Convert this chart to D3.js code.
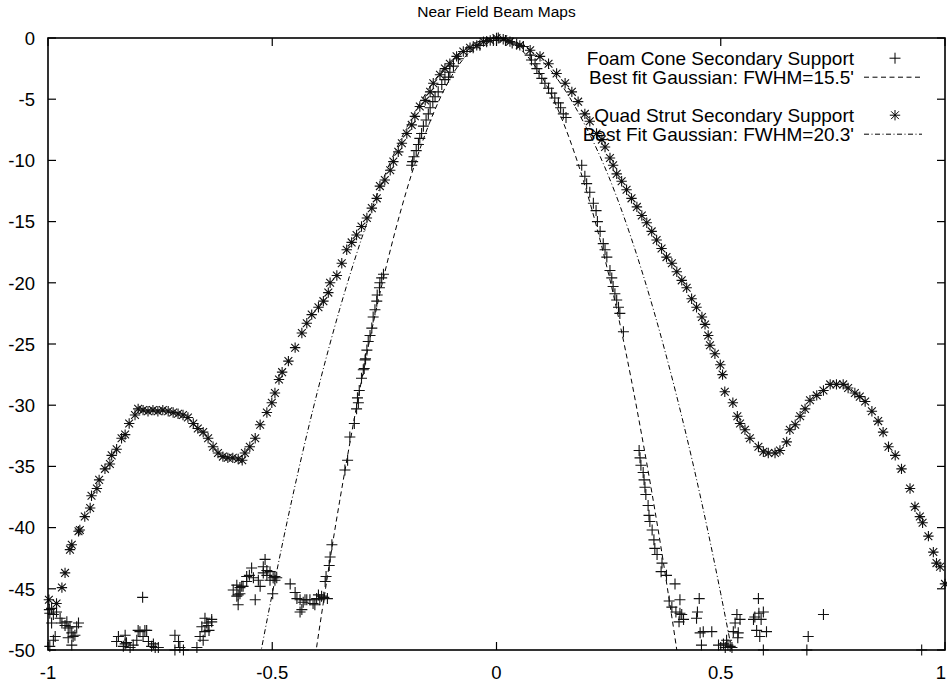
<!DOCTYPE html>
<html><head><meta charset="utf-8">
<script src="https://cdn.jsdelivr.net/npm/d3@7"></script>
<style>
body{margin:0;background:#fff}
svg{display:block}
text{font-family:"Liberation Sans",Arial,Helvetica,sans-serif;fill:#000}
</style>
</head><body>
<svg id="chart" width="947" height="688"></svg>
<script>
// ---------- data ----------
const chartTitle = "Near Field Beam Maps";
const xTicks = [-1, -0.5, 0, 0.5, 1];
const yTicks = [0, -5, -10, -15, -20, -25, -30, -35, -40, -45, -50];
const legendLabels = ["Foam Cone Secondary Support", "Best fit Gaussian: FWHM=15.5'", "", "Quad Strut Secondary Support", "Best Fit Gaussian: FWHM=20.3'"];

// Quad strut secondary support (star markers): [x, dB]
const quadPoints = [
[-0.998,-45.9],[-0.981,-46.2],[-0.969,-44.9],[-0.962,-43.7],[-0.951,-41.8],[-0.947,-41.4],[-0.932,-40.3],[-0.929,-40.2],[-0.918,-39.1],[-0.906,-38.4],[-0.903,-37.4],[-0.891,-36.8],[-0.886,-36.1],[-0.873,-35.2],[-0.862,-34.8],[-0.858,-34.1],[-0.847,-33.6],[-0.836,-32.7],[-0.828,-32.4],[-0.819,-31.5],[-0.806,-30.8],[-0.799,-30.3],[-0.788,-30.4],[-0.777,-30.5],[-0.766,-30.4],[-0.755,-30.5],[-0.744,-30.4],[-0.732,-30.5],[-0.721,-30.6],[-0.710,-30.7],[-0.699,-30.8],[-0.688,-31.0],[-0.676,-31.5],[-0.666,-31.9],[-0.654,-32.2],[-0.643,-32.7],[-0.632,-33.4],[-0.621,-33.9],[-0.610,-34.2],[-0.599,-34.3],[-0.588,-34.3],[-0.576,-34.4],[-0.567,-34.5],[-0.561,-33.9],[-0.550,-33.4],[-0.538,-32.7],[-0.527,-31.6],[-0.512,-30.6],[-0.501,-29.8],[-0.494,-29.0],[-0.485,-27.9],[-0.478,-27.3],[-0.464,-26.4],[-0.449,-25.3],[-0.434,-24.1],[-0.423,-23.3],[-0.412,-22.6],[-0.397,-22.0],[-0.386,-21.5],[-0.375,-20.8],[-0.371,-20.0],[-0.356,-19.4],[-0.345,-18.4],[-0.334,-17.3],[-0.323,-16.7],[-0.312,-16.1],[-0.301,-15.4],[-0.289,-14.7],[-0.278,-13.9],[-0.267,-13.1],[-0.260,-12.1],[-0.249,-11.6],[-0.237,-10.8],[-0.230,-10.1],[-0.219,-9.3],[-0.211,-8.6],[-0.200,-7.8],[-0.189,-7.1],[-0.182,-6.4],[-0.171,-5.6],[-0.159,-5.1],[-0.148,-4.4],[-0.141,-3.7],[-0.126,-3.0],[-0.115,-2.5],[-0.104,-2.1],[-0.089,-1.5],[-0.074,-1.1],[-0.059,-0.8],[-0.044,-0.6],[-0.029,-0.3],[-0.014,-0.2],[0.000,0.0],[0.015,-0.1],[0.030,-0.3],[0.052,-0.6],[0.075,-1.0],[0.097,-1.5],[0.116,-2.1],[0.134,-2.9],[0.153,-3.7],[0.168,-4.4],[0.182,-5.2],[0.197,-6.2],[0.208,-6.8],[0.223,-7.8],[0.235,-8.3],[0.242,-8.9],[0.253,-9.8],[0.260,-10.4],[0.268,-11.1],[0.279,-11.7],[0.290,-12.4],[0.301,-13.1],[0.313,-13.8],[0.324,-14.5],[0.335,-15.1],[0.346,-15.8],[0.357,-16.5],[0.368,-17.2],[0.379,-17.9],[0.391,-18.4],[0.402,-19.1],[0.413,-19.8],[0.424,-20.4],[0.435,-21.3],[0.446,-22.0],[0.458,-22.8],[0.465,-23.4],[0.472,-24.3],[0.476,-25.1],[0.487,-25.8],[0.499,-26.7],[0.504,-27.5],[0.509,-28.9],[0.527,-29.8],[0.537,-30.9],[0.543,-31.5],[0.554,-32.0],[0.565,-32.7],[0.584,-33.4],[0.595,-33.8],[0.606,-33.9],[0.621,-33.9],[0.632,-33.7],[0.647,-33.0],[0.654,-32.0],[0.666,-31.6],[0.677,-30.9],[0.688,-30.3],[0.699,-29.6],[0.714,-29.2],[0.729,-28.8],[0.744,-28.3],[0.758,-28.3],[0.773,-28.3],[0.784,-28.6],[0.799,-29.0],[0.810,-29.3],[0.822,-29.7],[0.837,-30.5],[0.851,-31.3],[0.862,-32.2],[0.874,-33.4],[0.889,-34.1],[0.903,-35.2],[0.922,-36.8],[0.933,-38.3],[0.944,-39.1],[0.950,-39.6],[0.963,-40.7],[0.974,-42.0],[0.981,-42.9],[0.989,-43.2],[1.000,-44.6]
];

// Foam cone secondary support (plus markers): [x, dB]
const foamPoints = [
[-0.997,-46.7],[-0.996,-47.0],[-0.992,-46.6],[-0.988,-47.1],[-0.992,-47.8],[-0.984,-48.9],[-0.981,-46.9],[-0.973,-47.4],[-0.969,-47.8],[-0.962,-48.0],[-0.958,-47.7],[-0.955,-48.2],[-0.951,-48.1],[-0.947,-48.6],[-0.944,-48.9],[-0.940,-48.8],[-0.936,-48.1],[-0.932,-47.8],[-0.955,-49.0],[-0.947,-49.6],[-0.988,-49.2],[-0.996,-49.7],
[-0.789,-45.7],
[-0.847,-49.3],[-0.843,-48.9],[-0.832,-49.7],[-0.828,-48.8],[-0.828,-49.5],[-0.825,-49.4],[-0.817,-49.8],[-0.810,-49.6],[-0.802,-49.2],[-0.799,-48.4],[-0.795,-48.5],[-0.788,-48.9],[-0.784,-48.4],[-0.780,-48.4],[-0.776,-49.3],[-0.769,-49.7],[-0.765,-49.5],[-0.761,-49.8],[-0.754,-49.8],
[-0.717,-48.8],[-0.709,-49.3],[-0.706,-49.8],[-0.698,-50.0],[-0.717,-50.0],
[-0.668,-49.8],[-0.661,-48.9],[-0.657,-48.1],[-0.654,-49.2],[-0.650,-47.4],[-0.650,-48.5],[-0.646,-47.8],[-0.643,-48.0],[-0.641,-48.4],[-0.635,-47.7],[-0.635,-47.5],
[-0.587,-45.1],[-0.579,-44.7],[-0.579,-45.6],[-0.576,-45.5],[-0.576,-46.3],[-0.572,-44.9],[-0.572,-45.4],[-0.568,-44.8],[-0.565,-44.8],[-0.557,-44.4],[-0.557,-44.0],[-0.551,-43.9],[-0.546,-43.3],[-0.542,-44.1],[-0.538,-45.9],[-0.531,-44.3],[-0.527,-44.8],[-0.520,-43.7],[-0.520,-43.2],[-0.516,-42.6],[-0.512,-43.5],[-0.512,-43.9],[-0.505,-43.6],[-0.505,-44.3],[-0.499,-45.4],[-0.498,-44.1],[-0.494,-44.3],[-0.494,-44.0],[-0.490,-44.1],
[-0.460,-44.6],[-0.449,-45.3],[-0.445,-45.8],[-0.438,-45.9],[-0.438,-46.9],[-0.434,-46.7],[-0.431,-46.1],[-0.427,-45.9],[-0.423,-45.9],[-0.416,-45.9],[-0.409,-46.2],[-0.405,-46.3],[-0.401,-45.8],[-0.397,-45.5],[-0.394,-45.9],[-0.390,-45.6],[-0.385,-45.7],[-0.377,-45.8],[-0.382,-44.4],[-0.380,-44.0],[-0.373,-43.1],[-0.371,-42.4],[-0.367,-41.4],
[-0.338,-35.3],[-0.332,-34.5],[-0.327,-32.6],[-0.317,-31.5],[-0.312,-30.3],[-0.310,-29.4],[-0.308,-29.8],[-0.306,-28.8],[-0.301,-27.8],[-0.297,-27.1],[-0.295,-27.0],[-0.293,-26.3],[-0.292,-26.2],[-0.289,-25.5],[-0.286,-24.8],[-0.282,-24.3],[-0.278,-23.7],[-0.275,-22.8],[-0.271,-22.2],[-0.267,-21.5],[-0.266,-21.0],[-0.261,-20.4],[-0.260,-20.0],[-0.256,-19.6],[-0.252,-19.3],
[-0.189,-10.4],[-0.187,-10.1],[-0.184,-9.7],[-0.179,-9.2],[-0.174,-8.7],[-0.171,-8.2],[-0.167,-7.8],[-0.163,-7.2],[-0.157,-6.7],[-0.152,-6.2],[-0.148,-5.7],[-0.142,-5.2],[-0.137,-4.8],[-0.130,-4.4],[-0.122,-3.8],[-0.115,-3.4],[-0.107,-3.2],[-0.104,-2.8],[-0.096,-2.3],[-0.085,-1.7],[-0.066,-1.1],[-0.052,-0.8],[-0.037,-0.6],[-0.022,-0.3],[-0.007,-0.2],[0.004,0.0],[0.020,-0.2],[0.035,-0.4],[0.045,-0.5],
[0.060,-0.7],[0.075,-1.4],[0.078,-1.8],[0.086,-2.1],[0.090,-2.5],[0.095,-2.9],[0.101,-3.3],[0.108,-3.7],[0.116,-4.1],[0.123,-4.5],[0.130,-4.9],[0.138,-5.3],[0.143,-5.7],[0.149,-6.2],[0.155,-6.5],
[0.190,-10.4],[0.197,-11.3],[0.201,-11.9],[0.208,-12.6],[0.216,-13.5],[0.222,-14.1],[0.225,-15.0],[0.231,-15.8],[0.238,-16.8],[0.242,-17.3],[0.246,-17.9],[0.253,-19.0],[0.257,-19.6],[0.260,-20.3],[0.264,-20.9],[0.268,-21.4],[0.272,-22.0],[0.275,-22.5],[0.283,-24.0],
[0.318,-33.7],[0.320,-34.3],[0.322,-34.9],[0.327,-35.5],[0.329,-36.1],[0.331,-36.7],[0.333,-37.3],[0.338,-38.2],[0.340,-39.0],[0.342,-39.5],[0.347,-40.2],[0.351,-41.0],[0.353,-41.7],[0.358,-42.2],
[0.367,-43.6],[0.369,-42.9],[0.379,-43.9],[0.398,-44.6],[0.385,-46.0],[0.391,-46.5],[0.400,-46.9],[0.409,-45.9],[0.407,-47.7],[0.413,-47.1],[0.417,-47.5],[0.409,-47.0],
[0.452,-45.8],[0.448,-46.9],[0.446,-47.4],[0.454,-48.6],[0.457,-49.6],[0.461,-48.5],[0.480,-48.5],[0.495,-49.6],[0.506,-49.5],[0.513,-49.2],[0.521,-49.7],[0.510,-49.8],[0.516,-49.6],[0.525,-49.8],[0.528,-48.5],[0.536,-47.1],[0.543,-47.5],[0.539,-48.6],[0.532,-47.8],[0.538,-49.0],
[0.584,-45.8],[0.573,-47.5],[0.585,-47.0],[0.590,-47.5],[0.580,-48.4],[0.587,-48.9],[0.602,-48.5],[0.595,-50.0],[0.595,-46.9],[0.576,-47.3],
[0.692,-50.0],[0.695,-48.9],[0.729,-47.1],[0.948,-50.0]
];

// Best-fit Gaussian curves
const foamFitX = [-0.42,-0.40,-0.38,-0.35,-0.30,-0.25,-0.20,-0.15,-0.10,-0.05,0,0.05,0.10,0.15,0.20,0.25,0.30,0.35,0.38,0.40,0.42];
const foamFitY = [-54.6,-49.5,-44.7,-37.9,-27.8,-19.3,-12.4,-7.0,-3.1,-0.8,0,-0.8,-3.1,-7.0,-12.4,-19.3,-27.8,-37.9,-44.7,-49.5,-54.6];
const quadFitX = [-0.55,-0.50,-0.45,-0.40,-0.35,-0.30,-0.25,-0.20,-0.15,-0.10,-0.05,0,0.05,0.10,0.15,0.20,0.25,0.30,0.35,0.40,0.45,0.50,0.55];
const quadFitY = [-54.9,-45.4,-36.7,-29.0,-22.2,-16.3,-11.3,-7.3,-4.1,-1.8,-0.45,0,-0.45,-1.8,-4.1,-7.3,-11.3,-16.3,-22.2,-29.0,-36.7,-45.4,-54.9];

// ---------- drawing ----------
const svg = d3.select("#chart");
const L = 48, R = 945, T = 38, B = 650;
const x = d3.scaleLinear().domain([-1, 1]).range([L, R]);
const y = d3.scaleLinear().domain([-50, 0]).range([B, T]);
const tickLen = 8;
const fontSize = 18.5;

svg.append("defs").append("clipPath").attr("id", "plotclip")
  .append("rect").attr("x", L).attr("y", T).attr("width", R - L).attr("height", B - T);

// title
svg.append("text").attr("x", (L + R) / 2).attr("y", 17).attr("text-anchor", "middle")
  .style("font-size", "15.5px").text(chartTitle);

// ticks (inward, mirrored)
const tg = svg.append("g").attr("stroke", "#000").attr("stroke-width", 1.2);
xTicks.forEach(v => {
  tg.append("line").attr("x1", x(v)).attr("x2", x(v)).attr("y1", B).attr("y2", B - tickLen);
  tg.append("line").attr("x1", x(v)).attr("x2", x(v)).attr("y1", T).attr("y2", T + tickLen);
});
yTicks.forEach(v => {
  tg.append("line").attr("x1", L).attr("x2", L + tickLen).attr("y1", y(v)).attr("y2", y(v));
  tg.append("line").attr("x1", R).attr("x2", R - tickLen).attr("y1", y(v)).attr("y2", y(v));
});

// tick labels (the last one is kept inside the window edge)
svg.append("g").selectAll("text").data(xTicks).join("text")
  .attr("x", d => Math.min(x(d), 941)).attr("y", B + 28.5).attr("text-anchor", "middle")
  .style("font-size", fontSize + "px").text(d => String(d));
svg.append("g").selectAll("text").data(yTicks).join("text")
  .attr("x", 35).attr("y", d => y(d) + 6.8).attr("text-anchor", "end")
  .style("font-size", fontSize + "px").text(d => String(d));

// fit curves
const plot = svg.append("g").attr("clip-path", "url(#plotclip)");
const line = d3.line().x(d => x(d[0])).y(d => y(d[1])).curve(d3.curveNatural);
const foamFit = foamFitX.map((v, i) => [v, foamFitY[i]]);
const quadFit = quadFitX.map((v, i) => [v, quadFitY[i]]);
const dashA = "5,3.5", dashB = "5,2.5,1,2.5";
plot.append("path").datum(foamFit).attr("d", line).attr("fill", "none")
  .attr("stroke", "#000").attr("stroke-width", 1).attr("stroke-dasharray", dashA);
plot.append("path").datum(quadFit).attr("d", line).attr("fill", "none")
  .attr("stroke", "#000").attr("stroke-width", 1).attr("stroke-dasharray", dashB);

// markers
const ps = 5.5, ss = 5.2, sa = ss * 0.75;
const plusPath = `M${-ps},0H${ps}M0,${-ps}V${ps}`;
const starPath = `M${-ss},0H${ss}M0,${-ss}V${ss}M${-sa},${-sa}L${sa},${sa}M${-sa},${sa}L${sa},${-sa}`;

svg.append("g").selectAll("path").data(foamPoints).join("path")
  .attr("transform", d => `translate(${x(d[0])},${y(d[1])})`)
  .attr("d", plusPath).attr("fill", "none").attr("stroke", "#111").attr("stroke-width", 1.1);
svg.append("g").selectAll("path").data(quadPoints).join("path")
  .attr("transform", d => `translate(${x(d[0])},${y(d[1])})`)
  .attr("d", starPath).attr("fill", "none").attr("stroke", "#111").attr("stroke-width", 1.1);

// border
svg.append("rect").attr("x", L).attr("y", T).attr("width", R - L).attr("height", B - T)
  .attr("fill", "none").attr("stroke", "#000").attr("stroke-width", 1.6);

// legend
const legX = 854, sampleL = 864, sampleR = 922, sampleC = 895;
const rowBase = [65, 84, 103, 122, 141];
const lg = svg.append("g");
legendLabels.forEach((t, i) => {
  if (!t) return;
  lg.append("text").attr("x", legX).attr("y", rowBase[i]).attr("text-anchor", "end")
    .style("font-size", "19px").text(t);
});
const rowMid = i => rowBase[i] - 6.8;
lg.append("path").attr("transform", `translate(${sampleC},${rowMid(0)})`)
  .attr("d", plusPath).attr("stroke", "#000").attr("fill", "none");
lg.append("line").attr("x1", sampleL).attr("x2", sampleR).attr("y1", rowMid(1)).attr("y2", rowMid(1))
  .attr("stroke", "#000").attr("stroke-dasharray", dashA);
lg.append("path").attr("transform", `translate(${sampleC},${rowMid(3)})`)
  .attr("d", starPath).attr("stroke", "#000").attr("fill", "none");
lg.append("line").attr("x1", sampleL).attr("x2", sampleR).attr("y1", rowMid(4)).attr("y2", rowMid(4))
  .attr("stroke", "#000").attr("stroke-dasharray", dashB);
</script>
</body></html>
